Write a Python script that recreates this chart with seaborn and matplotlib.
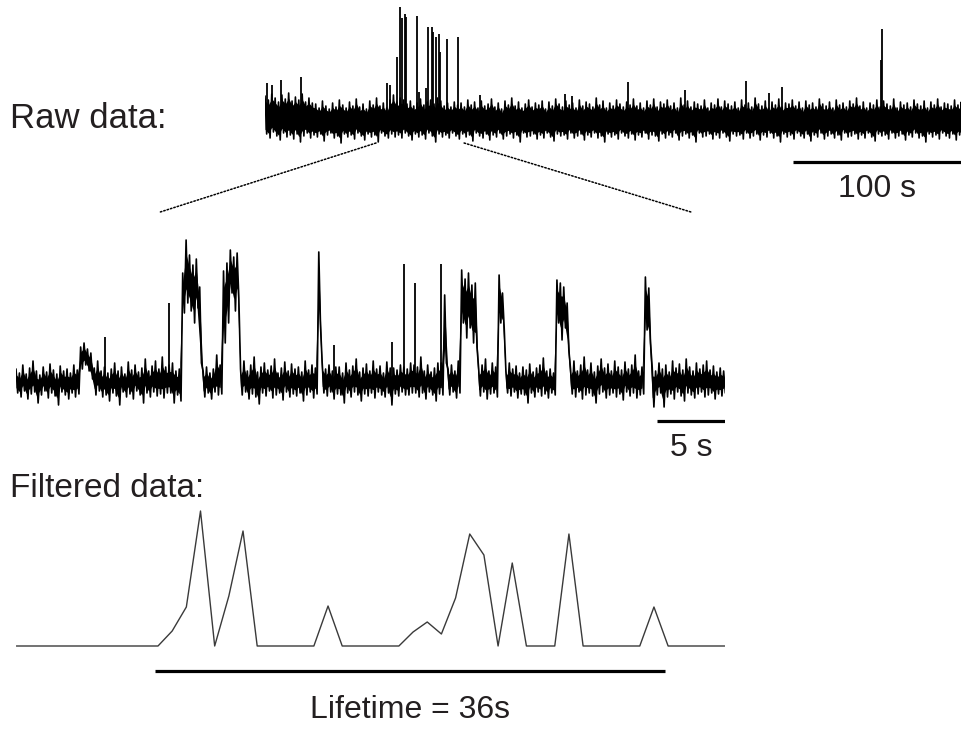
import numpy as np
import matplotlib
matplotlib.use("Agg")
import matplotlib.pyplot as plt
import seaborn as sns
from matplotlib.patches import ConnectionPatch

# ---- raw record (whole trace), envelope read every 2 s ----
raw_step = 2.0
raw_upper = [24, 20, 26, 22, 18, 25, 21, 27, 19, 23, 20, 26, 18, 22, 17,
             16, 12, 19, 14, 11, 17, 13, 20, 15, 12, 18, 14, 21, 13, 16, 11, 19, 15, 22, 14, 17, 12, 20, 25,
             18, 22, 20, 16, 19, 14, 17, 21, 15, 18, 20, 16, 22, 19, 14, 17, 13, 18, 15,
             17, 13, 20, 15, 18, 12, 19, 14, 16, 21, 13, 17, 11, 19, 15, 22, 14, 18, 12, 16, 20, 13, 17, 15,
             19, 11, 18, 14, 21, 16, 13, 19, 15, 17, 12, 20, 14, 18, 16, 13, 22, 15, 19, 12, 17, 14, 20, 16,
             13, 18, 15, 21, 14,
             17, 12, 19, 15, 21, 13, 18, 16, 20, 14, 17, 12, 22, 15, 19, 13, 18, 16, 14, 20,
             12, 17, 15, 21, 13, 19, 16, 14, 18, 12, 20, 15, 17, 13, 22, 16, 14, 19, 12, 18,
             15, 21, 13, 17, 16, 20, 14, 18, 12, 19, 15, 17, 13, 21, 16, 14, 18, 12, 20, 15,
             17, 13, 19, 16, 22, 14, 18, 12, 17, 15, 20, 13, 19, 16, 14, 21, 12, 18, 15, 17,
             13, 20, 16, 14, 19, 12, 18, 15, 21, 13, 17, 16, 14, 20, 15, 18]
raw_lower = [-14, -18, -12, -16, -20, -13, -17, -15, -19, -14, -22, -16, -13, -18, -15,
             -17, -14, -21, -15, -13, -18, -16, -23, -14, -17, -15, -19, -13, -16, -20, -14, -17, -15, -22,
             -13, -16, -18, -14, -17,
             -15, -18, -13, -16, -20, -14, -17, -15, -19, -13, -16, -22, -14, -17, -15, -18, -13, -16, -19,
             -14, -17, -15, -21, -13, -16, -18, -14, -20, -15, -17, -13, -19, -16, -14, -18, -15, -22, -13,
             -17, -16, -14, -19, -15, -18, -13, -17, -21, -14, -16, -15, -19, -13, -18, -16, -14, -20, -15,
             -17, -13, -18, -16, -22, -14, -17, -15, -19, -13, -16, -18, -14, -20, -15,
             -17, -13, -19, -15, -16, -21, -14, -18, -15, -17, -13, -20, -16, -14, -18, -15, -22, -13, -17, -16,
             -14, -19, -15, -18, -13, -17, -21, -14, -16, -15, -19, -13, -18, -16, -14, -20, -15, -17, -13, -18,
             -16, -22, -14, -17, -15, -19, -13, -16, -18, -14, -21, -15, -17, -13, -19, -16, -14, -18, -15, -20,
             -13, -17, -16, -14, -19, -15, -18, -13, -17, -21, -14, -16, -15, -19, -13, -18, -16, -14, -20, -15,
             -17, -13, -18, -16, -22, -14, -17, -15, -19, -13, -16, -18, -14, -20, -15, -17]
raw_spike_t = [1.2, 4.1, 9.5, 21.3, 72.2, 74.0, 78.1, 79.9, 81.1, 82.8, 83.4, 89.9, 91.1, 95.3,
               96.4, 98.8, 99.4, 101.2, 103.0, 103.6, 107.7, 114.2, 127.0, 177.5, 181.7,
               214.8, 248.5, 284.6, 298.2, 305.9, 364.6, 365.1]
raw_spike_top = [37, 35, 40, 43, 37, 35, 63, 113, 102, 106, 103, 104, 28, 32,
                 93, 93, 88, 83, 86, 68, 81, 83, 25, 26, 24,
                 38, 30, 39, 27, 33, 60, 91]
raw_length = 412.4
raw_bar = 100
zoom_start = 65.7

# ---- zoomed section, envelope read every 0.25 s ----
zoom_step = 0.25
zoom_upper = [14, 10, 18, 9, 15, 22, 12, 8, 16, 11, 19, 13, 9, 17, 12, 14, 10, 18, 13,
              36, 40, 34, 30,
              15, 22, 12,
              16,
              10, 14, 20, 12, 16, 9, 21, 13, 18, 11, 15, 24, 12, 17, 22, 14, 26, 16,
              18,
              20, 12, 14,
              110, 143, 128, 118, 124, 96,
              12, 16, 10, 14, 28, 18,
              112, 120, 133, 126, 130,
              14, 22, 12, 18, 26, 11, 16, 20, 13, 17, 24, 10, 15, 21, 12, 19, 14, 16, 11, 22, 13, 18, 15,
              131,
              20,
              14, 18, 12, 16, 16, 10, 20, 13, 17, 24, 11, 15, 19, 12, 22, 14, 17, 10, 21, 15, 15, 13, 18,
              16, 14, 20, 18,
              16, 26, 12, 18, 11, 15, 20,
              20, 88,
              14, 18, 12, 22,
              113, 104, 110, 98, 100,
              14, 18, 24, 12, 20, 16,
              108, 90,
              12, 20, 14, 17, 10, 16, 13, 19, 11, 15, 18, 25, 12, 14, 10,
              103, 100, 96, 80,
              14, 22, 12, 18, 26, 13, 20, 11, 17, 24, 15, 19, 12, 22, 16, 13, 21, 14, 18, 28, 12, 16,
              106, 95,
              16, 12, 20, 14, 18, 11, 22, 15, 19, 13, 24, 16, 12, 20, 14, 18, 22, 13, 17, 11, 15, 12]
zoom_lower = [-10, -14, -8, -16, -11, -9, -20, -12, -8, -15, -10, -13, -22, -9, -12, -16, -10, -14, -11,
              14, 18, 12, 4,
              -12, -8, -14,
              -12,
              -18, -10, -13, -22, -9, -14, -11, -16, -8, -12, -20, -10, -14, -9, -13, -11, -15, -10,
              -10,
              -20, -12, -18,
              70, 80, 72, 60, 75, 20,
              -14, -10, -16, -9, -12, -11,
              40, 60, 90, 72, 85,
              -12, -9, -16, -11, -14, -21, -10, -13, -8, -15, -12, -10, -17, -9, -14, -11, -13, -10, -18,
              -12, -9, -15, -11,
              58,
              -10,
              -13, -9, -16, -11, -12, -20, -10, -14, -9, -12, -18, -11, -13, -10, -15, -9, -12, -14, -10,
              -22, -11, -13, -9,
              -12, -12, -10, -10,
              -14, -10, -16, -9, -12, -18, -11,
              -12, 20,
              -12, -9, -15, -10,
              60, 45, 55, 40, 36,
              -13, -9, -16, -11, -10, -14,
              60, 55,
              -10, -13, -9, -15, -11, -12, -20, -10, -14, -9, -13, -11, -15, -10, -12,
              60, 43, 55, 33,
              -11, -14, -9, -16, -12, -10, -13, -20, -11, -9, -15, -12, -10, -14, -11, -17, -9, -13, -10,
              -15, -12, -11,
              53, 40,
              -24, -12, -10, -24, -14, -11, -16, -9, -13, -18, -10, -12, -15, -11, -9, -14, -12, -10, -16,
              -11, -13, -10]
zoom_spike_t = [6.54, 11.25, 23.38, 27.65, 28.53, 29.34, 31.25]
zoom_spike_top = [46, 80, 38, 41, 119, 100, 119]
zoom_length = 52.1
zoom_bar = 5

# ---- filtered data, one value per second ----
filtered = [0, 0, 0, 0, 0, 0, 0, 0, 0, 0,
            0, 15, 39, 135, 0, 50, 115, 0, 0, 0,
            0, 0, 40, 0, 0, 0, 0, 0, 14, 24,
            12, 48, 112, 91, 0, 83, 0, 0, 0, 112,
            0, 0, 0, 0, 0, 39, 0, 0, 0, 0, 0]
lifetime_start = 9.8
lifetime = 36

sns.set_style("white")
plt.rcParams["font.family"] = ["Liberation Sans", "DejaVu Sans"]
txt = dict(color="#231f20")

W, H = 962, 733
fig = plt.figure(figsize=(W / 100, H / 100), dpi=100)


def box(x0, x1, y0, y1):
    return [x0 / W, 1 - y1 / H, (x1 - x0) / W, (y1 - y0) / H]


def draw_trace(ax, step, upper, lower, spike_t, spike_top, lw, core):
    # noisy record: a solid core plus strokes up to the upper edge and down to the lower edge
    up = np.array(upper, dtype=float)
    lo = np.array(lower, dtype=float)
    t = np.arange(len(up)) * step
    mid = (up + lo) / 2
    half = (up - lo) / 2
    ax.fill_between(t, mid - half * core, mid + half * core, color="black", lw=0)
    tz = np.column_stack([t, t + step / 2]).ravel()
    yz = np.column_stack([up, lo]).ravel()
    sns.lineplot(x=tz, y=yz, ax=ax, sort=False, estimator=None, color="black", lw=lw)
    ax.vlines(spike_t, 0, spike_top, color="black", lw=1.3)


# raw trace
ax_raw = fig.add_axes(box(265, 962, 0, 200))
draw_trace(ax_raw, raw_step, raw_upper, raw_lower, raw_spike_t, raw_spike_top, 1.2, 0.75)
ax_raw.set_xlim(0, raw_length)
ax_raw.set_ylim(-80, 120)
ax_raw.plot([raw_length - raw_bar, raw_length], [-42, -42], color="black", lw=2.3,
            solid_capstyle="butt")
ax_raw.text(raw_length - raw_bar / 2, -77, "100 s", ha="center", va="baseline",
            fontsize=23, **txt)
ax_raw.axis("off")

# zoomed trace
ax_zoom = fig.add_axes(box(16, 725, 230, 460))
draw_trace(ax_zoom, zoom_step, zoom_upper, zoom_lower, zoom_spike_t, zoom_spike_top, 1.2, 0.55)
ax_zoom.set_xlim(0, zoom_length)
ax_zoom.set_ylim(-77, 153)
ax_zoom.plot([zoom_length - zoom_bar, zoom_length], [-38, -38], color="black", lw=2.3,
             solid_capstyle="butt")
ax_zoom.text(zoom_length - zoom_bar / 2, -73, "5 s", ha="center", va="baseline",
             fontsize=23, **txt)
ax_zoom.axis("off")

# dotted guides from the raw trace to the zoomed section
for a, b in [(zoom_start, 10.6), (zoom_start + zoom_length, 49.6)]:
    con = ConnectionPatch(xyA=(a, -23), coordsA=ax_raw.transData,
                          xyB=(b, 171), coordsB=ax_zoom.transData,
                          color="black", lw=1.1, linestyle=(0, (1, 1.3)))
    fig.add_artist(con)

# filtered trace
ax_f = fig.add_axes(box(16.3, 724.8, 490, 733))
sns.lineplot(x=np.arange(len(filtered)), y=np.array(filtered), ax=ax_f, color="#3a3a3a", lw=1.0)
ax_f.set_xlim(0, len(filtered) - 1)
ax_f.set_ylim(-87, 156)
ax_f.plot([lifetime_start, lifetime_start + lifetime], [-25, -25], color="black", lw=2.3,
          solid_capstyle="butt")
ax_f.text(lifetime_start + lifetime / 2, -72, f"Lifetime = {lifetime}s", ha="center",
          va="baseline", fontsize=23, **txt)
ax_f.axis("off")

fig.text(10 / W, 1 - 128 / H, "Raw data:", ha="left", va="baseline", fontsize=25, **txt)
fig.text(10 / W, 1 - 497 / H, "Filtered data:", ha="left", va="baseline", fontsize=24, **txt)

fig.savefig("out.png", dpi=100, facecolor="white")
